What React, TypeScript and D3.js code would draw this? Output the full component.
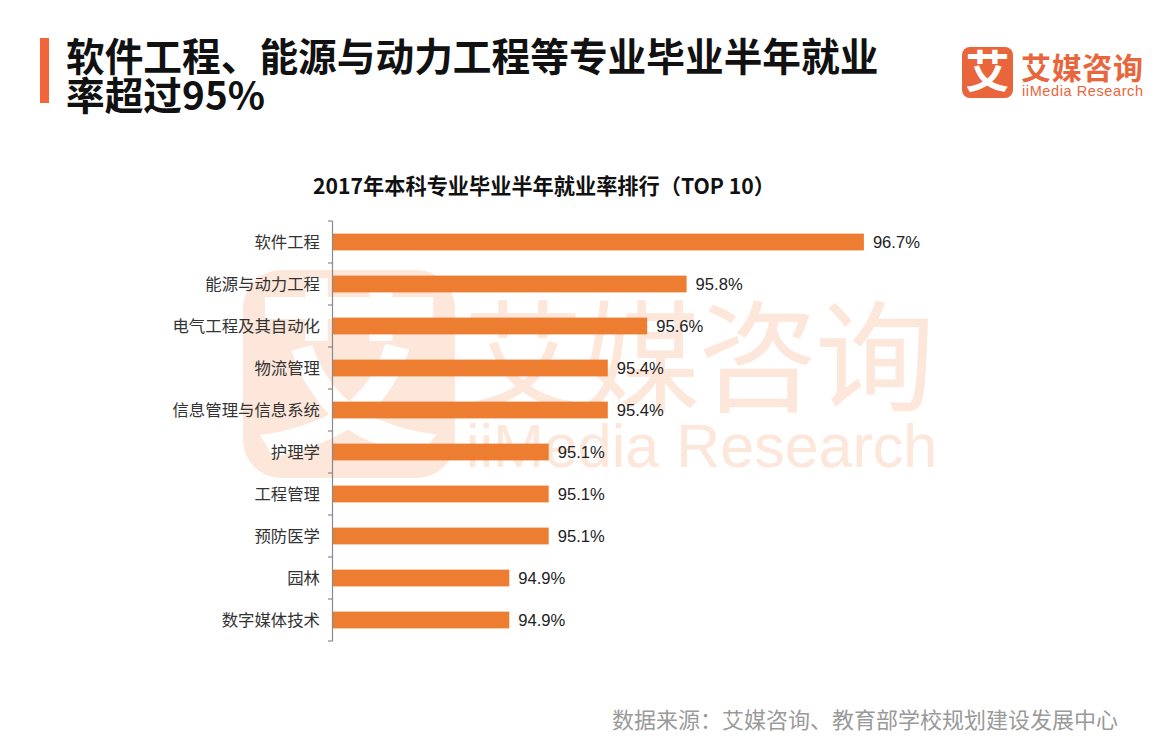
import React from "react";
import * as d3 from "d3";

const categories = [
  "软件工程",
  "能源与动力工程",
  "电气工程及其自动化",
  "物流管理",
  "信息管理与信息系统",
  "护理学",
  "工程管理",
  "预防医学",
  "园林",
  "数字媒体技术",
];
const values = [96.7, 95.8, 95.6, 95.4, 95.4, 95.1, 95.1, 95.1, 94.9, 94.9];
const xDomain = [94, 97];

const pageTitle = ["软件工程、能源与动力工程等专业毕业半年就业", "率超过95%"];
const chartTitle = "2017年本科专业毕业半年就业率排行（TOP 10）";
const sourceText = "数据来源：艾媒咨询、教育部学校规划建设发展中心";

const W = 1161;
const H = 752;
const CJK = "'Noto Sans CJK SC', 'Noto Sans', sans-serif";
const LAT = "'Liberation Sans', Arial, sans-serif";
const ORANGE = "#ED7D31";
const BRAND = "#E9653B";
const WM = "#FDE6DA";

export default function App() {
  const x = d3.scaleLinear().domain(xDomain).range([332, 332 + 3 * 197]);
  const y = d3
    .scaleBand<string>()
    .domain(categories)
    .range([221, 641])
    .paddingInner(0.6)
    .paddingOuter(0.3);
  const step = y.step();
  const y0 = y.range()[0];
  const boundaries = d3.range(categories.length + 1).map((i) => y0 + i * step);

  return (
    <div style={{ position: "absolute", left: 0, top: 0, width: W, height: H, overflow: "hidden" }}>
      <svg width={W} height={H} style={{ display: "block", background: "#fff" }}>
        {/* watermark */}
        <g>
          <rect x={243} y={270} width={212} height={208} rx={38} fill={WM} />
          <text
            x={349}
            y={440}
            textAnchor="middle"
            fontFamily={CJK}
            fontWeight={700}
            fontSize={190}
            fill="#fff"
          >
            艾
          </text>
          <text x={463} y={402} fontFamily={CJK} fontSize={120} fill={WM} textLength={472}>
            艾媒咨询
          </text>
          <text x={466} y={467} fontFamily={LAT} fontSize={61} fill={WM}>
            iiMedia Research
          </text>
        </g>

        {/* page title */}
        <rect x={40} y={38} width={9} height={65} fill="#F2643A" />
        <text x={66} y={71} fontFamily={CJK} fontWeight={700} fontSize={38.7} fill="#111">
          {pageTitle[0]}
        </text>
        <text x={66} y={110} fontFamily={CJK} fontWeight={700} fontSize={38.7} fill="#111">
          {pageTitle[1]}
        </text>

        {/* logo */}
        <rect x={962} y={47} width={51} height={51} rx={8} fill={BRAND} />
        <text
          x={987.5}
          y={88}
          textAnchor="middle"
          fontFamily={CJK}
          fontWeight={700}
          fontSize={44}
          fill="#fff"
        >
          艾
        </text>
        <text x={1021} y={79} fontFamily={CJK} fontWeight={700} fontSize={30} fill={BRAND} textLength={122}>
          艾媒咨询
        </text>
        <text x={1022} y={96} fontFamily={LAT} fontSize={14.5} fill={BRAND} textLength={121}>
          iiMedia Research
        </text>

        {/* chart title */}
        <text
          x={544}
          y={194}
          textAnchor="middle"
          fontFamily={CJK}
          fontWeight={700}
          fontSize={21.2}
          fill="#111"
        >
          {chartTitle}
        </text>

        {/* bars */}
        {categories.map((c, i) => (
          <rect
            key={c}
            x={x(xDomain[0])}
            y={y(c)}
            width={x(values[i]) - x(xDomain[0])}
            height={y.bandwidth()}
            fill={ORANGE}
          />
        ))}

        {/* axis */}
        <line x1={332.5} x2={332.5} y1={y0} y2={y0 + step * categories.length} stroke="#8a8a8a" strokeWidth={1.2} />
        {boundaries.map((b, i) => (
          <line key={i} x1={328} x2={332.5} y1={b} y2={b} stroke="#8a8a8a" strokeWidth={1.2} />
        ))}

        {/* category labels */}
        {categories.map((c) => (
          <text
            key={c}
            x={320}
            y={(y(c) as number) + y.bandwidth() / 2}
            dy="0.35em"
            textAnchor="end"
            fontFamily={CJK}
            fontSize={16.4}
            fill="#333"
          >
            {c}
          </text>
        ))}

        {/* value labels */}
        {categories.map((c, i) => (
          <text
            key={c}
            x={x(values[i]) + 9}
            y={(y(c) as number) + y.bandwidth() / 2}
            dy="0.36em"
            fontFamily={LAT}
            fontSize={16.6}
            fill="#222"
          >
            {values[i].toFixed(1)}%
          </text>
        ))}

        {/* source */}
        <text x={1118} y={728} textAnchor="end" fontFamily={CJK} fontSize={22} fill="#9a9a9a">
          {sourceText}
        </text>
      </svg>
    </div>
  );
}
